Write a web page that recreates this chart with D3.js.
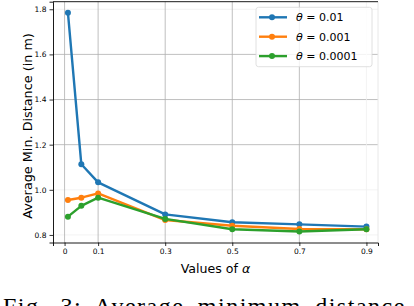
<!DOCTYPE html>
<html><head><meta charset="utf-8">
<script src="https://cdn.jsdelivr.net/npm/d3@7"></script>
<style>html,body{margin:0;padding:0;background:#fff;overflow:hidden}</style>
</head><body>
<svg id="c" width="414" height="306"></svg>
<script>
const alphas = [0.01, 0.05, 0.1, 0.3, 0.5, 0.7, 0.9];
const theta001 = [1.785, 1.113, 1.033, 0.891, 0.856, 0.847, 0.837];
const theta0001 = [0.955, 0.965, 0.984, 0.866, 0.841, 0.826, 0.825];
const theta00001 = [0.881, 0.929, 0.965, 0.871, 0.825, 0.815, 0.825];
const seriesNames = ["0.01", "0.001", "0.0001"];
const xTicks = [0, 0.1, 0.3, 0.5, 0.7, 0.9];
const xTickLabels = ["0", "0.1", "0.3", "0.5", "0.7", "0.9"];
const yTicks = [0.8, 1.0, 1.2, 1.4, 1.6, 1.8];
const yTickLabels = ["0.8", "1.0", "1.2", "1.4", "1.6", "1.8"];

const colors = ["#1f77b4", "#ff7f0e", "#2ca02c"];
const series = [theta001, theta0001, theta00001];

const svg = d3.select("#c");
const L = 53, R = 378, T = 1.7, B = 242.5;
const x = d3.scaleLinear().domain([-0.0345, 0.9345]).range([L, R]);
const y = d3.scaleLinear().domain([0.7665, 1.8335]).range([B, T]);

// gridlines
const faintY = new Set([0.8, 1.0, 1.8]);
svg.append("g").selectAll("line").data(yTicks).join("line")
  .attr("x1", L).attr("x2", R)
  .attr("y1", d => y(d)).attr("y2", d => y(d))
  .attr("stroke", d => faintY.has(d) ? "#f0f0f0" : "#b0b0b0").attr("stroke-width", 0.8);
svg.append("g").selectAll("line").data(xTicks).join("line")
  .attr("y1", T).attr("y2", B)
  .attr("x1", d => x(d)).attr("x2", d => x(d))
  .attr("stroke", d => d === 0.9 ? "#f0f0f0" : "#b0b0b0").attr("stroke-width", 0.8);

// spines
svg.append("line").attr("x1", R).attr("x2", R).attr("y1", T).attr("y2", B).attr("stroke", "#e8e8e8").attr("stroke-width", 1);
svg.append("line").attr("x1", L).attr("x2", R).attr("y1", T).attr("y2", T).attr("stroke", "#000").attr("stroke-width", 0.9);

// axes
const xAxis = d3.axisBottom(x).tickValues(xTicks).tickFormat((d, i) => xTickLabels[i]).tickSize(3.5).tickPadding(3);
const gx = svg.append("g").attr("transform", `translate(0,${B})`).call(xAxis);
const yAxis = d3.axisLeft(y).tickValues(yTicks).tickFormat((d, i) => yTickLabels[i]).tickSize(3.5).tickPadding(3);
const gy = svg.append("g").attr("transform", `translate(${L},0)`).call(yAxis);
[gx, gy].forEach(g => {
  g.select(".domain").attr("stroke", "#000").attr("stroke-width", 0.9);
  g.selectAll(".tick line").attr("stroke", "#000").attr("stroke-width", 0.8);
  g.selectAll(".tick text").attr("font-family", "DejaVu Sans").attr("font-size", 7.5).attr("fill", "#000");
});

// lines
const line = d3.line().x((d, i) => x(alphas[i])).y(d => y(d));
series.forEach((s, k) => {
  svg.append("path").datum(s).attr("d", line)
    .attr("fill", "none").attr("stroke", colors[k]).attr("stroke-width", 2.4).attr("stroke-linejoin", "round");
  svg.append("g").selectAll("circle").data(s).join("circle")
    .attr("cx", (d, i) => x(alphas[i])).attr("cy", d => y(d)).attr("r", 3).attr("fill", colors[k]);
});

// axis labels
svg.append("text").attr("x", (L + R) / 2).attr("y", 272.5).attr("text-anchor", "middle")
  .attr("font-family", "DejaVu Sans").attr("font-size", 12.6).attr("fill", "#000")
  .html('Values of <tspan font-style="italic">α</tspan>');
svg.append("text").attr("transform", `translate(31.5,126) rotate(-90)`).attr("text-anchor", "middle")
  .attr("font-family", "DejaVu Sans").attr("font-size", 12.8).attr("fill", "#000")
  .text("Average Min. Distance (in m)");

// legend
const lg = svg.append("g");
lg.append("rect").attr("x", 256).attr("y", 7.3).attr("width", 116).attr("height", 59.4).attr("rx", 2.5)
  .attr("fill", "#fff").attr("fill-opacity", 0.8).attr("stroke", "#d8d8d8").attr("stroke-width", 0.8);
seriesNames.forEach((n, k) => {
  const yy = 17.3 + k * 19.4;
  lg.append("line").attr("x1", 259).attr("x2", 287).attr("y1", yy).attr("y2", yy).attr("stroke", colors[k]).attr("stroke-width", 2.4);
  lg.append("circle").attr("cx", 272).attr("cy", yy).attr("r", 3).attr("fill", colors[k]);
  lg.append("text").attr("x", 296).attr("y", yy + 4).attr("font-family", "DejaVu Sans").attr("font-size", 11).attr("fill", "#000")
    .html(`<tspan font-style="italic">θ</tspan> = ${n}`);
});

// caption (cut off at the bottom edge, as in the reference)
svg.append("text").attr("x", 3).attr("y", 314).attr("font-family", "Liberation Serif").attr("font-size", 24)
  .attr("letter-spacing", 1.5).attr("word-spacing", 6).attr("fill", "#000")
  .text("Fig. 3: Average minimum distance");
</script>
</body></html>
